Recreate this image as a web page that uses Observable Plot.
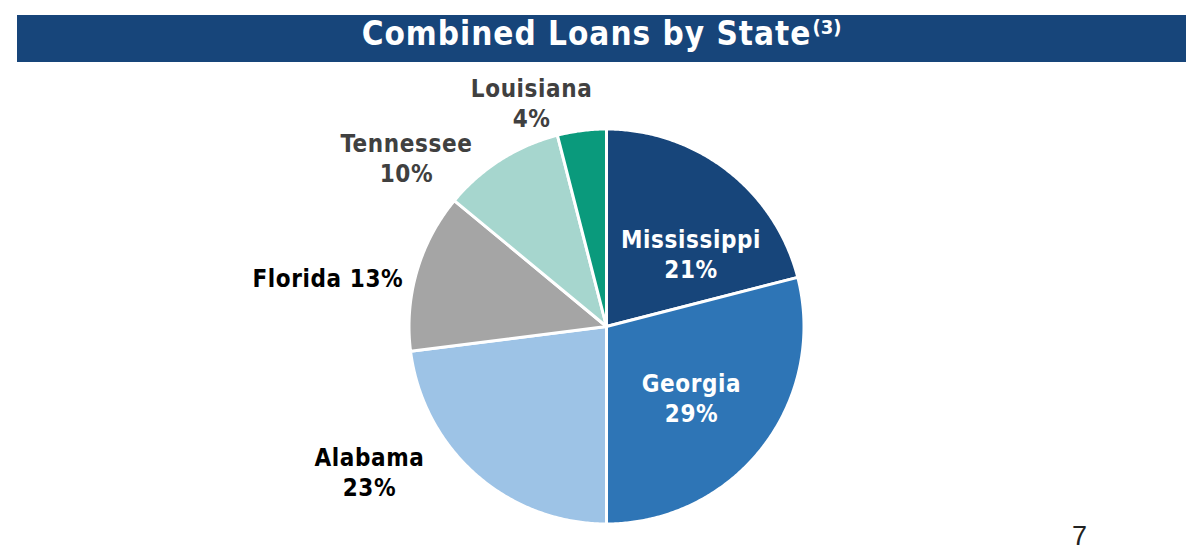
<!DOCTYPE html>
<html>
<head>
<meta charset="utf-8">
<script src="https://cdn.jsdelivr.net/npm/d3@7"></script>
<script src="https://cdn.jsdelivr.net/npm/@observablehq/plot@0.6"></script>
<style>
  html, body { margin: 0; padding: 0; background: #ffffff; }
  #page { position: relative; width: 1201px; height: 552px; overflow: hidden; font-family: "DejaVu Sans", sans-serif; }
  #title { position: absolute; left: 17px; top: 15px; width: 1169px; height: 47px; background: #17457a; color: #ffffff;
           font-family: "DejaVu Sans Condensed", "DejaVu Sans", sans-serif; font-stretch: condensed;
           font-weight: bold; font-size: 33px; letter-spacing: 1px; line-height: 37px; text-align: center; }
  #title span.sup { font-size: 20px; position: relative; top: -11px; margin-left: 1px; letter-spacing: 0; }
  #chart { position: absolute; left: 0; top: 62px; }
  #pageno { position: absolute; left: 1072px; top: 523px; height: 27px; font-size: 27px; line-height: 27px; color: #222222;
            font-family: "Liberation Sans", sans-serif; }
</style>
</head>
<body>
<div id="page">
  <div id="title">Combined Loans by State<span class="sup">(3)</span></div>
  <div id="chart"></div>
  <div id="pageno">7</div>
</div>
<script>
// ---- data ----
const states = ["Mississippi", "Georgia", "Alabama", "Florida", "Tennessee", "Louisiana"];
const shares = [21, 29, 23, 13, 10, 4];
const sliceColors = ["#17457a", "#2e75b6", "#9dc3e6", "#a5a5a5", "#a6d6ce", "#0a9a7c"];
const labelColors = ["#ffffff", "#ffffff", "#000000", "#000000", "#404040", "#404040"];
const labelLayout = ["two", "two", "two", "one", "two", "two"];

// ---- layout (px) ----
const W = 1201, H = 490;
const R = 197.5, CX = 606, CY = 264;
// label placement: angle (deg clockwise from 12 o'clock) and distance from centre (px), text anchor
const labelPlace = {
  Mississippi: {a: 49, r: 112, anchor: "middle"},
  Georgia:     {a: 130, r: 111, anchor: "middle"},
  Alabama:     {a: 238.5, r: 278, anchor: "middle"},
  Florida:     {a: 283.6, r: 209, anchor: "end"},
  Tennessee:   {a: 310.2, r: 262, anchor: "middle"},
  Louisiana:   {a: 341.5, r: 236, anchor: "middle"}
};

// ---- build wedge polygons in radius units ----
const total = d3.sum(shares);
const wedges = [];
let acc = 0;
states.forEach((s, i) => {
  const a0 = acc / total * 2 * Math.PI;
  acc += shares[i];
  const a1 = acc / total * 2 * Math.PI;
  wedges.push({state: s, x: 0, y: 0});
  const n = Math.max(2, Math.ceil((a1 - a0) / (Math.PI / 360)));
  for (let k = 0; k <= n; k++) {
    const t = a0 + (a1 - a0) * k / n;
    wedges.push({state: s, x: Math.sin(t), y: Math.cos(t)});
  }
});

const labels = states.map((s, i) => {
  const p = labelPlace[s];
  const t = p.a * Math.PI / 180;
  const text = labelLayout[i] === "one" ? `${s} ${shares[i]}%` : `${s}\n${shares[i]}%`;
  return {state: s, text, x: Math.sin(t) * p.r / R, y: Math.cos(t) * p.r / R, color: labelColors[i], anchor: p.anchor};
});

const textOpts = {
  x: "x", y: "y", text: "text", fontSize: 24, fontWeight: "bold",
  fontFamily: "DejaVu Sans Condensed, DejaVu Sans, sans-serif", lineHeight: 1.25, lineAnchor: "middle"
};

const plot = Plot.plot({
  width: W, height: H,
  margin: 0,
  x: {domain: [-CX / R, (W - CX) / R], axis: null},
  y: {domain: [-(H - CY) / R, CY / R], axis: null},
  color: {domain: states, range: sliceColors},
  style: {background: "transparent", letterSpacing: "0.6px", fontStretch: "condensed"},
  marks: [
    Plot.line(wedges, {x: "x", y: "y", z: "state", fill: "state", stroke: "#ffffff", strokeWidth: 3,
      strokeLinejoin: "round", curve: "linear-closed"}),
    ...["middle", "end"].map(anchor =>
      Plot.text(labels.filter(d => d.anchor === anchor), {...textOpts, fill: d => d.color, textAnchor: anchor}))
  ]
});
document.getElementById("chart").appendChild(plot);
</script>
</body>
</html>
